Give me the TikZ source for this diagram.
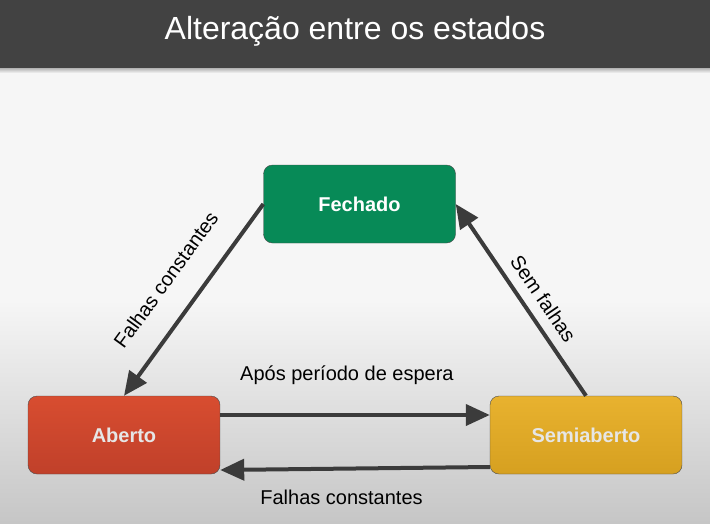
\documentclass[tikz,border=0pt]{standalone}
\usepackage{fontspec}
\setmainfont{Liberation Sans}
\usetikzlibrary{arrows.meta,positioning,calc}
\definecolor{csbar}      {HTML}{424242}
\definecolor{csink}      {HTML}{3B3B3B}
\definecolor{csrim}      {HTML}{4A4A4A}
\definecolor{cspaper}    {HTML}{F6F6F6}
\definecolor{csfloor}    {HTML}{C6C6C6}
\definecolor{csgreen}    {HTML}{078A57}
\definecolor{csredtop}   {HTML}{D84D30}
\definecolor{csredbot}   {HTML}{C0402A}
\definecolor{csgoldtop}  {HTML}{E8B22F}
\definecolor{csgoldbot}  {HTML}{D6A020}
\definecolor{csfaded}    {HTML}{E6E6E6}
\tikzset{
  csstate/.style={draw=csrim, rounded corners=9pt, minimum width=192pt,
                  minimum height=78pt, inner sep=0pt,
                  font=\bfseries\fontsize{20}{24}\selectfont},
  csclosed/.style={csstate, fill=csgreen, text=white},
  csopen/.style={csstate, top color=csredtop, bottom color=csredbot, text=csfaded},
  cshalf/.style={csstate, top color=csgoldtop, bottom color=csgoldbot, text=csfaded},
  csedge/.style={-{Triangle[length=24pt,width=21pt]}, draw=csink, line width=4pt},
  cslabel/.style={font=\fontsize{20}{24}\selectfont, text=black, inner sep=0pt},
  cstitle/.style={font=\fontsize{32}{38}\selectfont, text=white},
}
\begin{document}
\begin{tikzpicture}[x=1pt,y=-1pt]
  \useasboundingbox (0,0) rectangle (710,523);
  \fill[cspaper] (0,68) rectangle (710,300);
  \shade[top color=cspaper, bottom color=csfloor] (0,300) rectangle (710,523);
  \shade[top color=black!30, bottom color=cspaper] (0,68) rectangle (710,73);
  \fill[csbar] (0,0) rectangle (710,68);
  \node[cstitle] (title) at (355,31) {Alteração entre os estados};

  \node[csclosed] (fechado)    at (359.5,204) {Fechado};
  \node[csopen]   (aberto)     at (124,435)   {Aberto};
  \node[cshalf]   (semiaberto) at (586,435)   {Semiaberto};

  \draw[csedge] (fechado.west) -- (aberto.north)
    node[cslabel, sloped, above=25pt, pos=0.5] {Falhas constantes};
  \draw[csedge] (semiaberto.north) -- (fechado.east)
    node[cslabel, sloped, above=10pt, pos=0.45] {Sem falhas};
  \draw[csedge] ([yshift=20pt]aberto.east) -- ([yshift=20pt]semiaberto.west)
    node[cslabel, above=28pt, pos=0.47] {Após período de espera};
  \draw[csedge] ([yshift=-32pt]semiaberto.west) -- ([yshift=-35pt]aberto.east)
    node[cslabel, below=19pt, pos=0.55] {Falhas constantes};
\end{tikzpicture}
\end{document}
